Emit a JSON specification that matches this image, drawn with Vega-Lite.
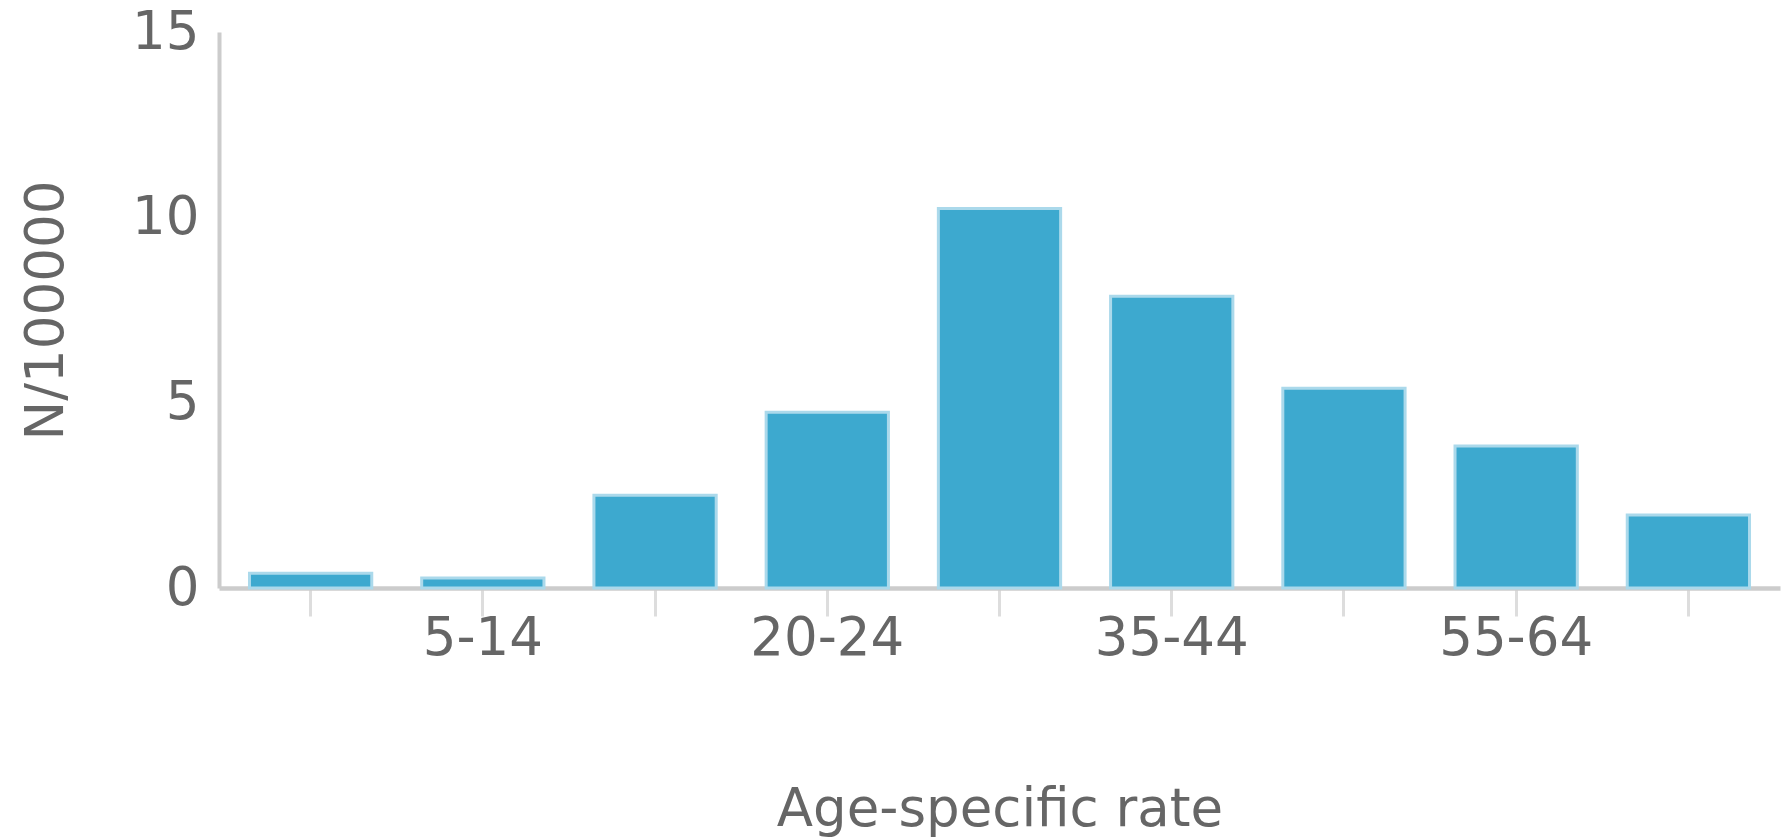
{
  "$schema": "https://vega.github.io/schema/vega-lite/v6.json",
  "width": 1561,
  "height": 556,
  "autosize": "none",
  "padding": {"left": 219, "top": 32, "right": 3, "bottom": 252},
  "background": "white",
  "config": {"view": {"stroke": null}, "font": "DejaVu Sans"},
  "data": {
    "values": [
      {"age": "0-4", "rate": 0.4},
      {"age": "5-14", "rate": 0.27},
      {"age": "15-19", "rate": 2.5},
      {"age": "20-24", "rate": 4.74},
      {"age": "25-34", "rate": 10.24},
      {"age": "35-44", "rate": 7.87},
      {"age": "45-54", "rate": 5.39},
      {"age": "55-64", "rate": 3.83},
      {"age": "65+", "rate": 1.97}
    ]
  },
  "mark": {"type": "bar", "fill": "#3da9cf", "stroke": "#abd9eb", "strokeWidth": 3},
  "encoding": {
    "x": {
      "field": "age",
      "type": "nominal",
      "sort": null,
      "scale": {"paddingInner": 0.29, "paddingOuter": 0.177},
      "axis": {
        "title": "Age-specific rate",
        "grid": false,
        "labelAngle": 0,
        "labelExpr": "indexof(['5-14','20-24','35-44','55-64'], datum.value) >= 0 ? datum.label : ''",
        "labelFontSize": 53,
        "labelColor": "#666666",
        "labelBaseline": "alphabetic",
        "labelPadding": 38,
        "domainColor": "#cccccc",
        "domainWidth": 4.5,
        "tickColor": "#dddddd",
        "tickWidth": 3,
        "tickSize": 28,
        "titleFontSize": 53,
        "titleFontWeight": "normal",
        "titleColor": "#666666",
        "titleBaseline": "alphabetic",
        "titleY": 237
      }
    },
    "y": {
      "field": "rate",
      "type": "quantitative",
      "scale": {"domain": [0, 15], "nice": false},
      "axis": {
        "title": "N/100000",
        "values": [0, 5, 10, 15],
        "grid": false,
        "ticks": false,
        "labelFontSize": 53,
        "labelColor": "#666666",
        "labelPadding": 20,
        "domainColor": "#cccccc",
        "domainWidth": 4,
        "titleFontSize": 53,
        "titleFontWeight": "normal",
        "titleColor": "#666666",
        "titleAngle": -90,
        "titleAlign": "center",
        "titleBaseline": "alphabetic",
        "titleX": -157,
        "titleY": 278
      }
    }
  }
}
